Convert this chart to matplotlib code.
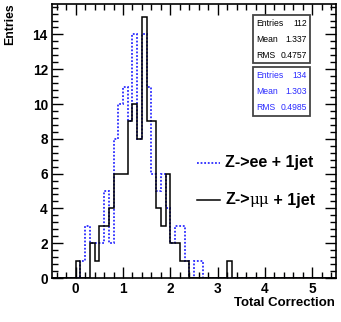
import numpy as np
import matplotlib
matplotlib.use("Agg")
import matplotlib.pyplot as plt
from matplotlib.ticker import MultipleLocator
from matplotlib.patches import Rectangle

# histogram binning
bin_lo, bin_hi, nbins = -0.5, 5.5, 60

# Z->mumu + 1jet (black, solid)  -- 60 bins of width 0.1 starting at -0.5
mumu_counts = [0, 0, 0, 0, 0, 1, 0, 0, 2, 1,
               3, 3, 4, 6, 6, 6, 9, 10, 8, 15,
               9, 9, 4, 3, 6, 2, 2, 1, 1, 0,
               0, 0, 0, 0, 0, 0, 0, 1, 0, 0,
               0, 0, 0, 0, 0, 0, 0, 0, 0, 0,
               0, 0, 0, 0, 0, 0, 0, 0, 0, 0]
# Z->ee + 1jet (blue, dotted)
ee_counts = [0, 0, 0, 0, 0, 0, 1, 3, 2, 2,
             2, 5, 2, 8, 10, 11, 9, 14, 8, 14,
             11, 6, 5, 6, 4, 2, 3, 3, 1, 0,
             1, 1, 0, 0, 0, 0, 0, 0, 0, 0,
             0, 0, 0, 0, 0, 0, 0, 0, 0, 0,
             0, 0, 0, 0, 0, 0, 0, 0, 0, 0]

stats_mumu = [("Entries", "112"), ("Mean", "1.337"), ("RMS", "0.4757")]
stats_ee = [("Entries", "134"), ("Mean", "1.303"), ("RMS", "0.4985")]

label_ee = "Z->ee + 1jet"
label_mumu = ("Z->", "\u03bc\u03bc", " + 1jet")
xlabel = "Total Correction"
ylabel = "Entries"

BLUE = "#2b2bff"
W, H = 341, 322
fig = plt.figure(figsize=(W / 100, H / 100), dpi=100)
ax = fig.add_axes([52 / W, 1 - 278 / H, (336 - 52) / W, (278 - 4) / H])

edges = np.linspace(bin_lo, bin_hi, nbins + 1)
ax.stairs(ee_counts, edges, color=BLUE, lw=1.3, linestyle=(0, (1.0, 1.0)), baseline=0)
ax.stairs(mumu_counts, edges, color="black", lw=1.1, baseline=0)

ax.set_xlim(bin_lo, bin_hi)
ax.set_ylim(0, 15.75)

ax.xaxis.set_major_locator(MultipleLocator(1))
ax.xaxis.set_minor_locator(MultipleLocator(0.2))
ax.yaxis.set_major_locator(MultipleLocator(2))
ax.yaxis.set_minor_locator(MultipleLocator(0.4))
ax.tick_params(which="both", direction="in", top=True, right=True, width=1.0, color="black")
ax.tick_params(which="major", length=8)
ax.tick_params(which="minor", length=4)
ax.tick_params(axis="x", which="major", pad=3)
ax.tick_params(axis="y", which="major", pad=3)
for lab in ax.get_xticklabels() + ax.get_yticklabels():
    lab.set_fontweight("bold")
    lab.set_fontsize(9.8)
    lab.set_family("Liberation Sans")
for sp in ax.spines.values():
    sp.set_linewidth(1.2)

fig.text(335 / W, 1 - 303 / H, xlabel, ha="right", va="center", fontsize=9.5,
         fontweight="bold", family="Liberation Sans")
fig.text(10 / W, 1 - 3 / H, ylabel, ha="center", va="top", rotation=90, fontsize=8.8,
         fontweight="bold", family="Liberation Sans")

# stats boxes
def stats_box(y_top, y_bot, rows, color):
    x0, x1 = 253, 310
    fig.patches.append(Rectangle((x0 / W, 1 - y_bot / H), (x1 - x0) / W, (y_bot - y_top) / H,
                                 transform=fig.transFigure, fill=True, facecolor="white",
                                 edgecolor="#444444", lw=1.3, zorder=5))
    n = len(rows)
    step = (y_bot - y_top) / n
    for i, (k, v) in enumerate(rows):
        yy = y_top + step * (i + 0.5)
        fig.text((x0 + 3) / W, 1 - yy / H, k, ha="left", va="center", fontsize=6.2,
                 color=color, family="Liberation Sans", zorder=6)
        fig.text((x1 - 3) / W, 1 - yy / H, v, ha="right", va="center", fontsize=6.2,
                 color=color, family="Liberation Sans", zorder=6)

stats_box(15, 63, stats_mumu, "black")
stats_box(67.5, 116, stats_ee, BLUE)

# legend
fig.add_artist(plt.Line2D([197 / W, 220 / W], [1 - 163 / H, 1 - 163 / H], color=BLUE,
                          lw=1.3, linestyle=(0, (1.0, 1.0)), transform=fig.transFigure))
fig.add_artist(plt.Line2D([197 / W, 220 / W], [1 - 200 / H, 1 - 200 / H], color="black",
                          lw=1.1, transform=fig.transFigure))
fig.text(225 / W, 1 - 163 / H, label_ee, ha="left", va="center", fontsize=11.5,
         fontweight="bold", family="Liberation Sans")
t1 = fig.text(225 / W, 1 - 200 / H, label_mumu[0], ha="left", va="center", fontsize=11.5,
              fontweight="bold", family="Liberation Sans")
t2 = ax.annotate(label_mumu[1], xy=(1, 0.5), xycoords=t1, ha="left", va="center",
                 fontsize=11, family="DejaVu Serif", annotation_clip=False)
t3 = ax.annotate(label_mumu[2], xy=(1, 0.5), xycoords=t2, ha="left", va="center",
                 fontsize=11.5, fontweight="bold", family="Liberation Sans", annotation_clip=False)

fig.savefig("out.png", dpi=100)
